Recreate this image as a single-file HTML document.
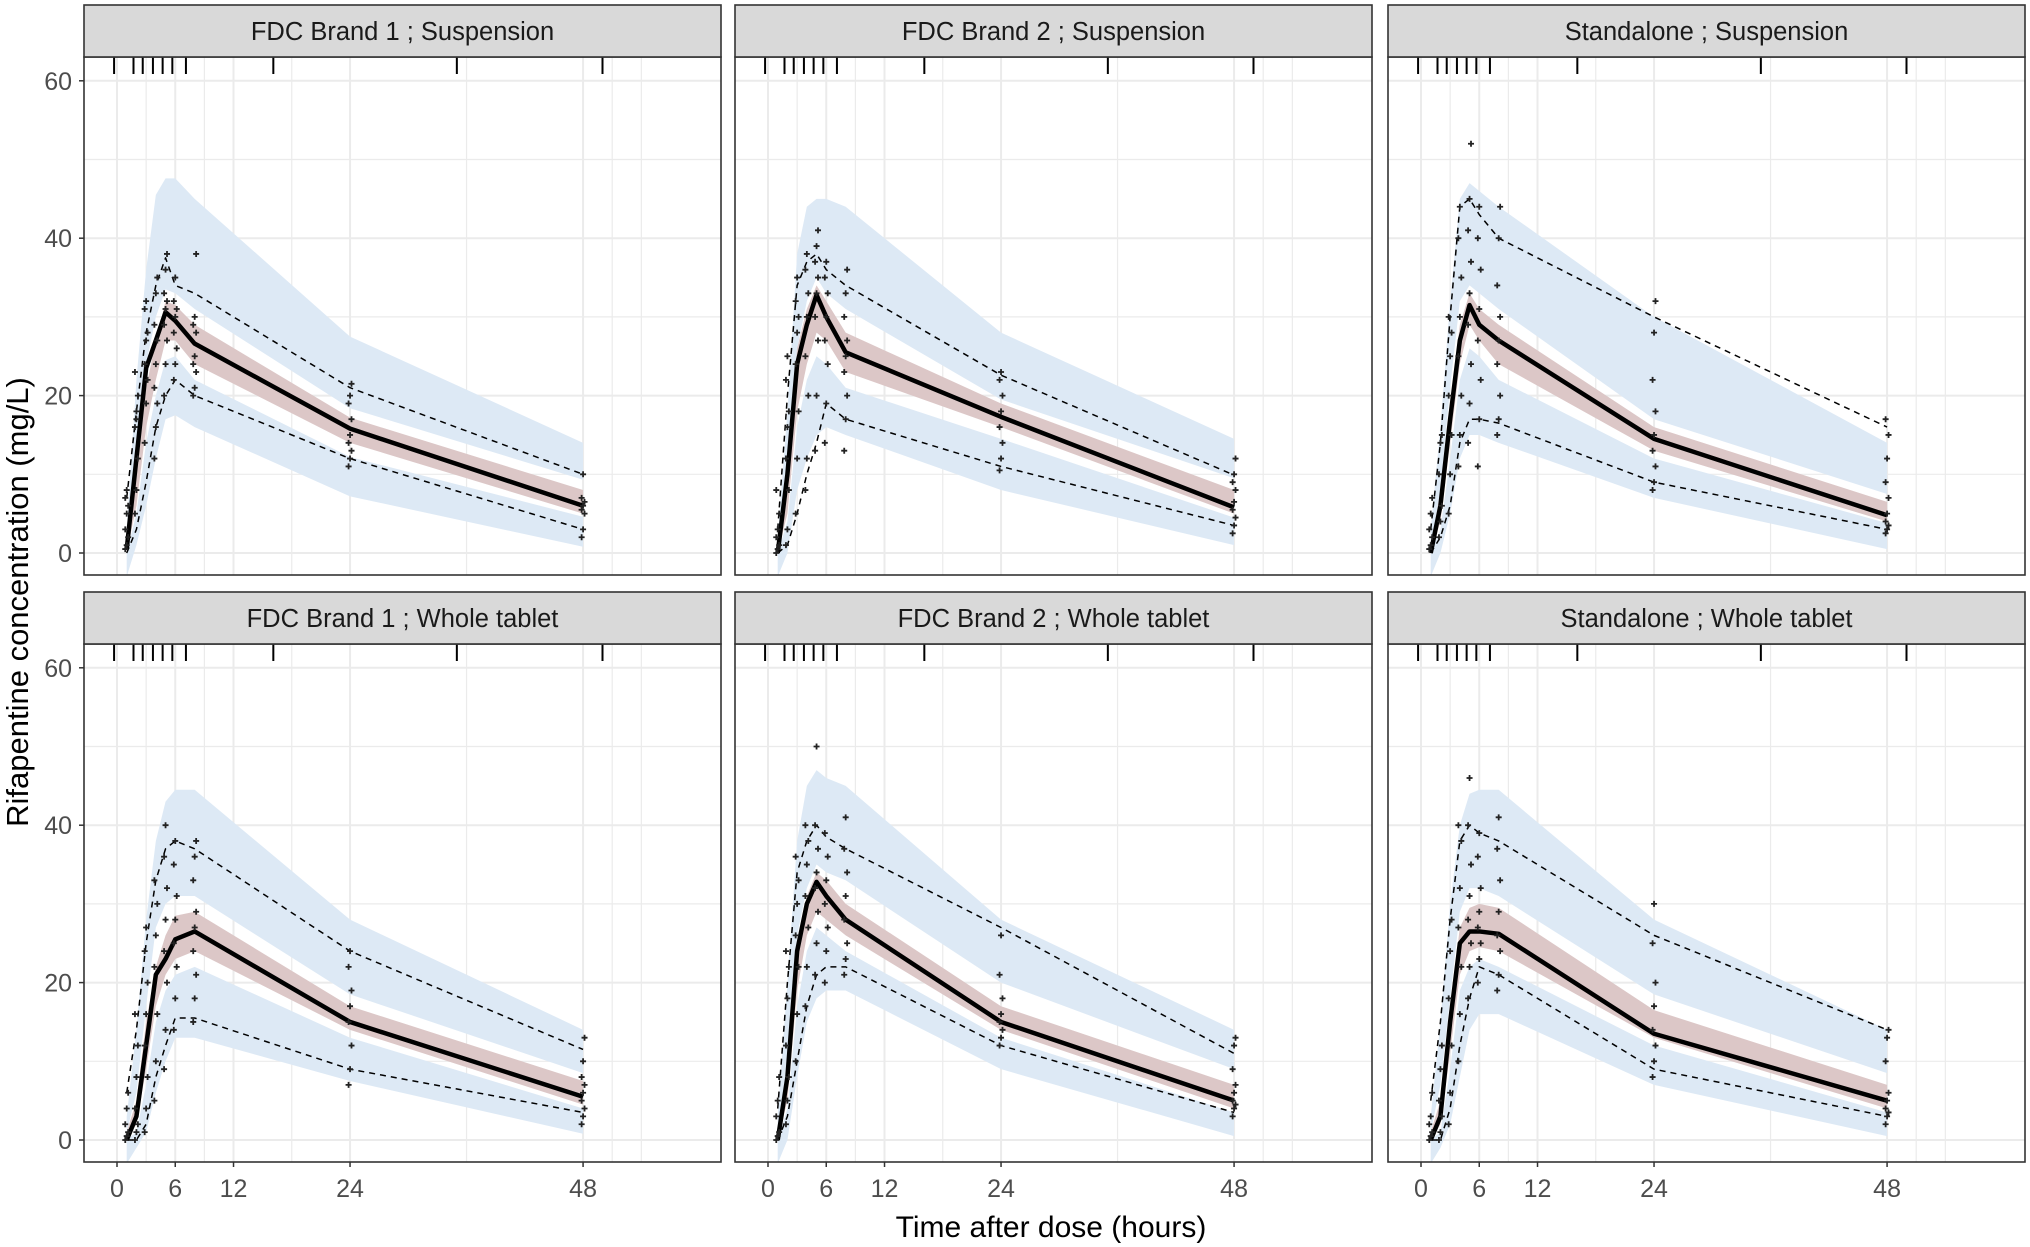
<!DOCTYPE html>
<html><head><meta charset="utf-8"><style>
html,body{margin:0;padding:0;background:#fff;}
svg{display:block;font-family:"Liberation Sans Narrow","Liberation Sans",sans-serif;}
</style></head><body>
<svg id="chart" width="2030" height="1247" viewBox="0 0 2030 1247" xmlns="http://www.w3.org/2000/svg">
<text x="0" y="0" transform="translate(28,602) rotate(-90)" text-anchor="middle" font-size="31" fill="#000">Rifapentine concentration (mg/L)</text>
<text x="1051" y="1237" text-anchor="middle" font-size="30" fill="#000">Time after dose (hours)</text>
</svg>
<script>
const times = [1,2,3,4,5,6,8,24,48];
const xTicks = [0,6,12,24,48];
const xGrid = [0,3,6,9,12,18,24,36,48,51,54];
const yTicks = [0,20,40,60];
const yGrid = [0,10,20,30,40,50,60];
const rugBins = [-0.3,1.7,2.65,3.7,4.7,5.7,7.1,16.1,35,50];
const panelTitles = ["FDC Brand 1 ; Suspension","FDC Brand 2 ; Suspension","Standalone ; Suspension","FDC Brand 1 ; Whole tablet","FDC Brand 2 ; Whole tablet","Standalone ; Whole tablet"];

const median = [
 [0.5,12,23.5,27,30.6,29.5,26.6,15.8,6],
 [0,10,24,29,32.8,30,25.5,17.3,5.8],
 [0,6,17,27,31.5,29,27,14.5,4.8],
 [0,3,12,21,23,25.5,26.5,15,5.5],
 [0,8,24,30,32.8,31,28,15,5],
 [0,3,15,25,26.5,26.5,26.2,13.5,5]];
const p95 = [
 [7,18,28,34,37.5,34,33,21,10],
 [3,20,34,37,38,36,34,22.6,9.9],
 [3,14,30,44,45,43,40,30,16],
 [6,14,25,33,37,38,37,24,11.5],
 [4,20,34,38,40,38.5,37,27,11],
 [5,15,28,38,40,39,38,26,14]];
const p5 = [
 [0,3,9,16,20,22,20,12,3],
 [0,1,5,10,14,19,17,11,3.5],
 [0,2,6,14,17,17,16.5,9,3],
 [0,0,2,8,12,15.5,15.5,9,3.5],
 [0,3,10,17,21,22,22,12,3.5],
 [0,0,4,12,18,22,21,9,3]];
const upperHi = [
 [3,22,36,45.5,47.6,47.6,45,27.5,14],
 [2,18,38,44,45,45,44,28,14.5],
 [3,16,32,45,47,46,44,30,14],
 [3,14,28,38,43,44.5,44.5,28,14],
 [3,20,38,45,47,46,45,28,14],
 [3,15,30,40,44,44.5,44.5,28,14]];
const upperLo = [
 [1,12,24,30,33.5,33,31,18.4,9.3],
 [0.5,10,26,32,35,33,31,19.5,9.5],
 [0.5,8,21,32,34,33,31,17,7.5],
 [1,6,17,27,30,31,31,18.5,8.5],
 [1,10,26,32,35,34,33,20,9],
 [1,7,18,29,32,32,31,18.5,8.5]];
const medHi = [
 [1,10,21,27,32,31.5,29,17.2,8],
 [0.5,11,26,31,34,32,28,19,8],
 [0.5,8,19,29,33,31,29,16,6.5],
 [1,5,15,22,26,28.5,29,17,7.5],
 [1,9,25,31,34,33,30,17,7],
 [1,5,17,27,29.5,30,29.5,16.5,7]];
const medLo = [
 [0,6,16,22,27,27,24,14,5],
 [0,5,18,24,28,27,23,16,5],
 [0,4,14,24,29,27,24,13,4],
 [0,2,9,17,21,23,24,14,4.5],
 [0,5,19,26,29,28,26,14,4],
 [0,2,11,21,24,24.5,24,13,4]];
const lowerHi = [
 [0,5,14,20,24.5,25,22,12.2,4.6],
 [0,4,16,22,25,24,21,14.5,4.5],
 [0,3,12,22,26,25,22,12,3.8],
 [0,1,7,15,19,21,22,13,4],
 [0,4,17,24,27,26,24,13,3.5],
 [0,1,9,19,22,23,22,12,3.5]];
const lowerLo = [
 [-3,1,6,12,17,17.5,16,7.2,0.8],
 [-3,0,8,12,15,16,15,8,1],
 [-3,0,5,12,15,15,14,7,0.5],
 [-3,-1,1,6,10,13,13,7.5,0.8],
 [-3,0,8,15,18,19,19,9,0.5],
 [-3,-1,2,8,14,16,16,7,0.5]];
const obs1 = [[0.5,1,2,3,5,6,7,8],[5,8,12,16,18,20,23,17],[14,19,22,24,27,28,31,32],[12,16,19,21,24,27,29,33,35],[20,24,27,29,31,32,33,36,38],[22,24,26,28,30,31,32,35],[20,21,23,24,25,28,29,30,38],[11,12,13,14,15,17,19,20,21.5],[2,3,5,5.5,6,6.5,7,10]];
const obs2 = [[0,0.5,1,2,3,5,8],[1,3,8,12,16,18,22,25],[5,12,18,24,28,30,32,35],[8,12,20,25,30,33,36,38],[13,20,27,30,33,35,37,39,41],[14,19,24,27,30,33,35,37],[13,17,20,23,25,27,30,33,36],[10.5,12,14,16,18,20,22,23],[2.5,3.5,4.5,5.5,6.5,8,9,10,12]];
const obs3 = [[0.5,1,2,3,5,7],[2,4,6,10,14,15],[5,10,15,20,25,28,30],[11,15,20,25,30,35,40,44],[14,19,24,29,33,37,41,45,52],[11,17,22,27,31,36,40,44],[15,17,20,24,27,30,34,40,44],[8,9,11,13,15,18,22,28,32],[2.5,3,3.5,4,5,7,9,12,15,17]];
const obs4 = [[0,0.5,1,2,4,6],[0,1,2,4,8,12,16],[1,4,8,12,16,20,24,27],[5,10,16,22,26,30,33],[9,14,20,24,28,32,36,40],[14,18,22,25,28,31,35,38],[15,18,21,24,27,29,33,36,38],[7,9,12,15,17,19,22,24],[2,3,4,5,6,7,8,10,13]];
const obs5 = [[0,0.5,1,3,5,8],[2,5,8,12,18,22,24],[10,16,22,26,30,33,36],[17,22,27,31,35,38,40],[21,25,29,32,34,37,40,50],[20,24,27,30,33,36,39],[21,23,25,28,31,34,37,41],[12,13,14,15,16,18,21,26],[3,4,4.5,5,6,7,9,12,13]];
const obs6 = [[0,0.5,1,2,3,6],[0,1,3,5,9,12],[2,6,12,18,24,28],[10,16,22,27,32,38,40],[18,22,25,28,31,35,40,46],[20,23,25,27,29,32,36,39],[19,21,24,26,29,33,37,41],[8,10,12,14,17,20,25,30],[2,3,3.5,4,5,6,10,13,14]];
const observed = [obs1,obs2,obs3,obs4,obs5,obs6];

const NS = "http://www.w3.org/2000/svg";
const svg = document.getElementById('chart');
const colLeft = [84,735,1388];
const panelW = 637;
const rowStripTop = [5,592];
const stripH = 52;
const panelH = 518;
function mk(tag, attrs, parent){const e=document.createElementNS(NS,tag);for(const k in attrs)e.setAttribute(k,attrs[k]);(parent||svg).appendChild(e);return e;}

for(let p=0;p<6;p++){
  const col=p%3,row=Math.floor(p/3);
  const L=colLeft[col], sTop=rowStripTop[row], T=sTop+stripH, B=T+panelH, R=L+panelW;
  const xs = h => L+33+h*9.71;
  const ys = v => T+496-v*7.87;
  const g = mk('g',{});
  
  
  const clipId='clip'+p;
  const cp=mk('clipPath',{id:clipId},g);
  mk('rect',{x:L,y:T,width:panelW,height:panelH},cp);
  yGrid.forEach(v=>{const ln=mk('line',{x1:L,x2:R,y1:ys(v),y2:ys(v),stroke:'#ebebeb','stroke-width':v%20===0?2:1.2},g);
    
    });
  xGrid.forEach(h=>{const ln=mk('line',{x1:xs(h),x2:xs(h),y1:T,y2:B,stroke:'#ebebeb','stroke-width':xTicks.includes(h)?2:1.2},g);
    
    });
  const dg=mk('g',{'clip-path':'url(#'+clipId+')'},g);
  function band(lo,hi,fill,name){
    let d='M'+times.map((t,i)=>xs(t)+','+ys(hi[p][i])).join('L');
    d+='L'+times.slice().reverse().map((t,j)=>{const i=times.length-1-j;return xs(t)+','+ys(lo[p][i]);}).join('L')+'Z';
    const e=mk('path',{d:d,fill:fill,stroke:'none'},dg);
    
    
  }
  band(upperLo,upperHi,'#dde9f5','upper-pi-band');
  band(lowerLo,lowerHi,'#dde9f5','lower-pi-band');
  band(medLo,medHi,'#dcc7c7','median-pi-band');
  function line(arr,w,dash,name){
    const e=mk('polyline',{points:times.map((t,i)=>xs(t)+','+ys(arr[p][i])).join(' '),fill:'none',stroke:'#000','stroke-width':w,'stroke-linejoin':'round'},dg);
    if(dash)e.setAttribute('stroke-dasharray',dash);
    
    
  }
  line(p95,1.5,'6,5','observed-p95-line');
  line(p5,1.5,'6,5','observed-p5-line');
  line(median,4.5,null,'observed-median-line');
  observed[p].forEach((vals,ti)=>{vals.forEach((v,k)=>{
    const cx=xs(times[ti]+((k%3)-1)*0.15), cy=ys(v);
    const e=mk('path',{d:`M${cx-3},${cy}H${cx+3}M${cx},${cy-3}V${cy+3}`,stroke:'#222','stroke-width':1.8},dg);
    
    
  });});
  rugBins.forEach(h=>{const e=mk('line',{x1:xs(h),x2:xs(h),y1:T,y2:T+17,stroke:'#000','stroke-width':2},g);
    
    });
  const br=mk('rect',{x:L,y:T,width:panelW,height:panelH,fill:'none',stroke:'#333','stroke-width':1.6},g);
  
  
  const st=mk('rect',{x:L,y:sTop,width:panelW,height:stripH,fill:'#d9d9d9',stroke:'#333','stroke-width':1.6},g);
  
  
  const tx=mk('text',{x:L+panelW/2,y:sTop+35,'text-anchor':'middle','font-size':25.5,fill:'#1a1a1a'},g);
  tx.textContent=panelTitles[p];
  
  
  if(col===0){
    yTicks.forEach(v=>{
      const t=mk('line',{x1:L-5,x2:L,y1:ys(v),y2:ys(v),stroke:'#333','stroke-width':1.5},g);
      
      
      const lb=mk('text',{x:L-12,y:ys(v)+9,'text-anchor':'end','font-size':25,fill:'#4d4d4d'},g);
      lb.textContent=v;
      
      
    });
  }
  if(row===1){
    xTicks.forEach(h=>{
      const t=mk('line',{x1:xs(h),x2:xs(h),y1:B,y2:B+5,stroke:'#333','stroke-width':1.5},g);
      
      
      const lb=mk('text',{x:xs(h),y:B+35,'text-anchor':'middle','font-size':25,fill:'#4d4d4d'},g);
      lb.textContent=h;
      
      
    });
  }
}
</script>
</body></html>
